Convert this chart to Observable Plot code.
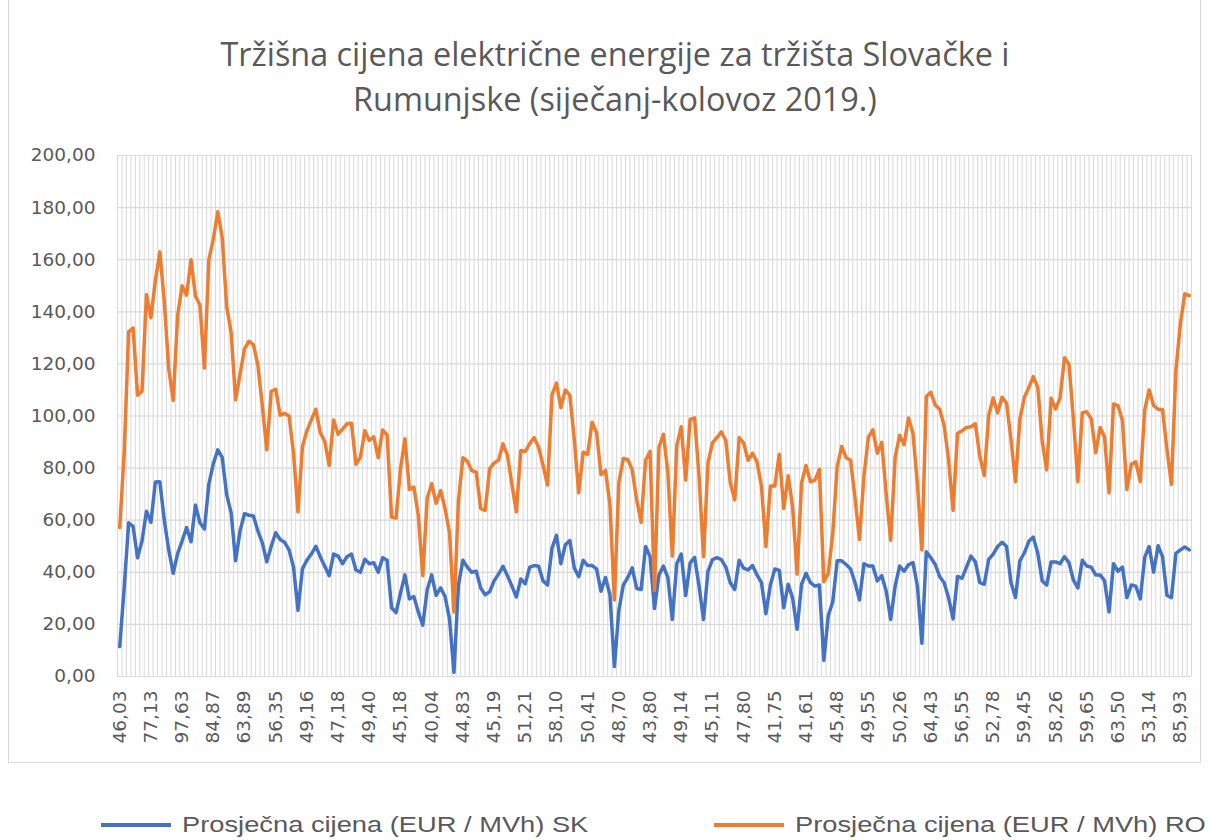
<!DOCTYPE html>
<html>
<head>
<meta charset="utf-8">
<script src="https://cdn.jsdelivr.net/npm/d3@7"></script>
<script src="https://cdn.jsdelivr.net/npm/@observablehq/plot@0.6"></script>
<style>
  body { margin: 0; background: #fff; width: 1209px; height: 840px; position: relative; overflow: hidden; }
  #frame { position: absolute; left: 8px; top: -2px; width: 1193px; height: 765px; border: 1px solid #d9d9d9; box-sizing: border-box; }
  #title { position: absolute; left: 21px; top: 31px; width: 1188px; text-align: center;
           font-family: "Open Sans", sans-serif; font-size: 32.4px; line-height: 45px; color: #595959; }
  #chart { position: absolute; left: 0; top: 130px; }
  .leg { position: absolute; top: 807px; height: 36px; display: flex; align-items: center;
         font-family: "Liberation Sans", Arial, sans-serif; font-size: 22px; color: #595959; white-space: nowrap; }
  .leg svg { margin-right: 10px; }
  .leg span { display: inline-block; transform: scaleX(1.24); transform-origin: left center; }
</style>
</head>
<body>
<div id="frame"></div>
<div id="title">Tržišna cijena električne energije za tržišta Slovačke i<br>Rumunjske (siječanj-kolovoz 2019.)</div>
<div id="chart"></div>
<div class="leg" id="leg1" style="left:100px"></div>
<div class="leg" id="leg2" style="left:713px"></div>
<script>
// ---- data ----
const seriesNames = ["Prosječna cijena (EUR / MVh) SK", "Prosječna cijena (EUR / MVh) RO"];
const seriesColors = ["#4472C4", "#ED7D31"];

// Tick labels shown on the category axis (every 7th category)
const tickLabels = ["46,03","77,13","97,63","84,87","63,89","56,35","49,16","47,18","49,40","45,18",
  "40,04","44,83","45,19","51,21","58,10","50,41","48,70","43,80","49,14","45,11",
  "47,80","41,75","41,61","45,48","49,55","50,26","64,43","56,55","52,78","59,45",
  "58,26","59,65","63,50","53,14","85,93"];
const tickStep = 7;

// Daily average price, Slovakia (EUR/MWh)
const sk = [11.5,34,59,57.6,45.6,52,63.4,59.2,74.7,74.8,
  60,48.6,39.6,47.3,52,57.2,51.7,65.8,59,56.6,
  73.8,81.7,87,84.1,69.8,62.8,44.4,55.9,62.5,61.9,
  61.6,55.9,51.3,44,50,55.2,52.6,51.5,48.6,42,
  25.4,41.3,44.6,47,50,46,42.3,38.7,47,46.2,
  43.3,46,47,40.9,40,45,43.3,43.7,40,45.6,
  44.6,26.4,24.5,32,39,29.8,30.7,24.8,19.7,33.4,
  39,31.1,34,30.7,22.1,1.6,35.1,44.6,42,40,
  40.4,34,31.4,32.5,36.7,39.3,42.3,38.7,34.7,30.5,
  37.4,35.6,42,42.6,42.3,36.7,35.1,49.3,54.2,43.3,
  50.6,52.2,41.7,38.3,44.6,42.6,42.6,41.3,32.7,38,
  31.4,3.8,25.4,35.1,38,41.7,33.8,33.4,49.9,46,
  26.1,39,42.4,38,21.9,43.3,47,31.1,43.6,45.7,
  34.7,21.9,40.4,44.9,45.6,44.9,42,36,33.4,44.6,
  41.6,40.9,42.6,39,36,24.1,35.1,41.3,40.7,26.4,
  35.4,30.1,18.1,35.4,39.6,36,34.7,35.1,6.2,23.4,
  28.7,44.4,44.4,43,41.3,36,29.4,43.3,42.4,42.4,
  36.7,38.7,32.7,21.9,34.7,42.4,40.4,42.9,43.7,34.7,
  12.8,47.9,45.6,43,38.3,36,30.1,22.1,38.4,37.7,
  42,46.2,44,36,35.4,45,47,49.9,51.5,49.9,
  36,30.3,44.4,47.5,51.9,53.5,47.3,36.7,35.1,44,
  44,43.3,46,43.7,37,34,44.6,42.4,42,39,
  39,36.7,24.8,43.3,40.4,42,30.3,35.1,34.7,29.8,
  45.7,49.9,40,50.2,46,31.1,30.3,47.3,48.6,49.7,
  48.6];

// Daily average price, Romania (EUR/MWh)
const ro = [57.2,85.7,132.3,133.8,108,109.5,146.6,137.7,152,163,
  144,118,106,138.7,150,146.4,160,146,142.6,118.4,
  160,167.8,178.4,168.5,142,132,106.2,116,125.8,128.7,
  127.4,119.5,104,87,109.5,110.2,100.3,101,100,85.7,
  63.2,88.3,94.3,98.5,102.6,93.6,90.3,81,98.5,93,
  95,97,97.2,81.5,84.1,94.3,90.6,92,84,94.6,
  92.7,61.2,60.8,79.7,91.3,71.8,72.7,61.9,38.7,68.5,
  74,66.5,71.4,64.5,55.2,24.8,67.2,84,82.6,79,
  78.4,64.5,63.8,79.7,82,83,89.3,85,73.8,63.2,
  86.8,86.4,89.4,91.7,88,81,73.5,108.2,112.6,103.2,
  110,108,91,70.5,86.1,85.3,97.6,93.6,77.5,79.1,
  65.8,29.4,74.4,83.7,83.3,79.3,67.8,59.2,83,86.4,
  33,88,93,78.4,46.2,88.6,95.9,75.4,98.7,99.3,
  76.7,46,82,89.7,91.7,93.9,90.6,74.4,67.8,91.7,
  89.7,83,85.7,82.4,73.1,49.9,73.1,73.1,85.3,64.5,
  77.1,65.2,39.3,74.4,81,74.7,75.4,79.5,36.4,39.6,
  55,80.7,88.3,84,83,68.5,52.6,77.1,91.9,94.7,
  85.7,89.9,69.8,52.3,84,92.6,89,99.2,93.4,73.8,
  48.6,107.5,109.1,104.2,102.6,96.3,83,63.8,93.4,94.3,
  95.6,95.9,97,84.5,77.1,100.3,106.9,101.2,107.2,104.9,
  91,74.8,98.9,107.2,110.9,115.1,111.1,90.3,79.3,106.9,
  102.6,106.9,122.4,119.9,98.9,74.8,101.3,101.6,98.9,85.9,
  95.6,91.9,70.5,104.6,104,98.3,71.8,81.5,82.4,74.8,
  102.3,110,104,102.6,102.5,87,73.8,117.5,135.4,146.9,
  146.2];

const yTicks = [0, 20, 40, 60, 80, 100, 120, 140, 160, 180, 200];

// ---- chart ----
const n = sk.length;
const idx = d3.range(n);
const categoryBounds = d3.range(n + 1).map(i => i - 0.5);
const xTicks = tickLabels.map((_, k) => k * tickStep);
const fmt = v => v.toFixed(2).replace(".", ",");

const chart = Plot.plot({
  width: 1209,
  height: 640,
  marginLeft: 117,
  marginRight: 18,
  marginTop: 25,
  marginBottom: 94,
  style: { fontFamily: "DejaVu Sans, sans-serif", fontSize: "18.5px", color: "#595959", background: "transparent" },
  x: { domain: [-0.5, n - 0.5], axis: null },
  y: { domain: [0, 200], axis: null },
  marks: [
    Plot.gridX(categoryBounds, { stroke: "#d9d9d9", strokeOpacity: 1, strokeWidth: 1 }),
    Plot.gridY(yTicks, { stroke: "#d9d9d9", strokeOpacity: 1, strokeWidth: 1.2 }),
    Plot.axisY(yTicks, { tickSize: 0, tickPadding: 22, tickFormat: fmt, fill: "#595959", label: null, fontSize: 18.5 }),
    Plot.axisX(xTicks, { tickSize: 0, tickPadding: 14, tickRotate: -90, tickFormat: i => tickLabels[i / tickStep],
                         fill: "#595959", label: null, fontSize: 18.5 }),
    Plot.lineY(sk, { x: (d, i) => idx[i], y: d => d, stroke: seriesColors[0], strokeWidth: 3.5,
                     strokeLinejoin: "round", strokeLinecap: "round" }),
    Plot.lineY(ro, { x: (d, i) => idx[i], y: d => d, stroke: seriesColors[1], strokeWidth: 3.5,
                     strokeLinejoin: "round", strokeLinecap: "round" })
  ]
});
document.getElementById("chart").appendChild(chart);

// ---- legend ----
["leg1", "leg2"].forEach((id, k) => {
  const el = document.getElementById(id);
  el.innerHTML = `<svg width="72" height="10"><line x1="1" y1="5" x2="71" y2="5" stroke="${seriesColors[k]}" stroke-width="4"/></svg><span>${seriesNames[k]}</span>`;
});
</script>
</body>
</html>
